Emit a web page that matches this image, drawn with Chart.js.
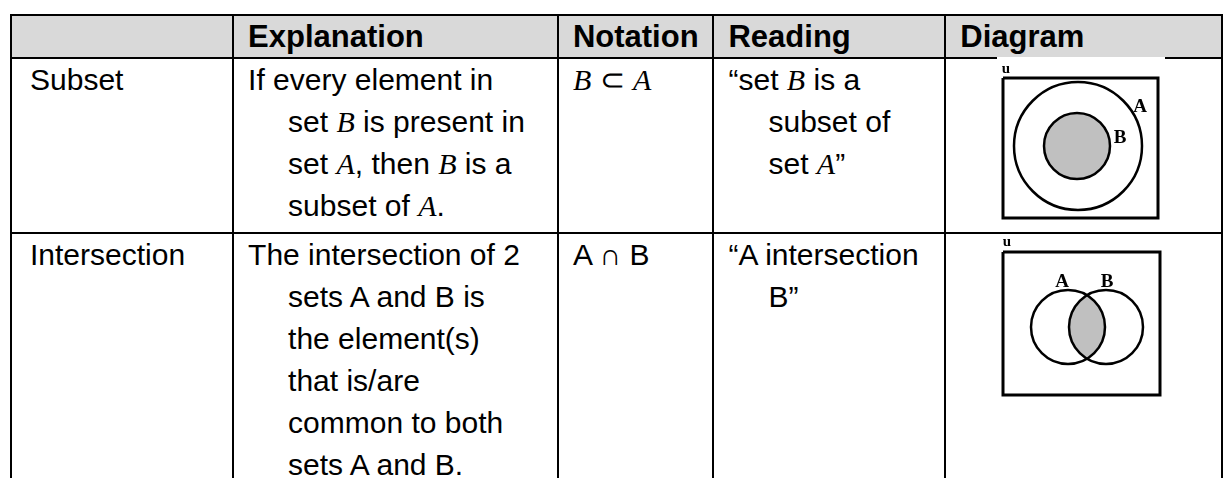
<!DOCTYPE html>
<html>
<head>
<meta charset="utf-8">
<script src="https://cdn.jsdelivr.net/npm/chart.js@4.4.1/dist/chart.umd.min.js"></script>
<style>
  html, body { margin: 0; padding: 0; background: #fff; width: 1223px; height: 478px; overflow: hidden; }
  #sheet {
    position: absolute; left: 10px; top: 14px;
    border-collapse: collapse; table-layout: fixed;
    font-family: "Liberation Sans", Arial, sans-serif; font-size: 30px; color: #000;
  }
  #sheet td, #sheet th {
    border: 2px solid #000; vertical-align: top; text-align: left;
    padding: 0 0 0 14px; line-height: 42px; white-space: nowrap; overflow: hidden;
  }
  #sheet th { background: #d9d9d9; font-weight: bold; font-size: 31px; height: 41px; line-height: 41px; vertical-align: middle; }
  #sheet td.first { padding-left: 18px; }
  #sheet td.hang { padding-left: 54px; text-indent: -40px; }
  i.m { font-family: "Liberation Serif", serif; font-style: italic; }
  .venn { position: absolute; background: #fff; }
</style>
</head>
<body>
<table id="sheet">
  <colgroup>
    <col style="width:237px"><col style="width:335px"><col style="width:160px"><col style="width:240px"><col style="width:320px">
  </colgroup>
  <thead><tr id="head"></tr></thead>
  <tbody id="rows"></tbody>
</table>
<canvas id="venn1" class="venn" width="168" height="175" style="left:997px;top:57px"></canvas>
<canvas id="venn2" class="venn" width="168" height="170" style="left:997px;top:234px"></canvas>

<script>
// table text
const headers = ['', 'Explanation', 'Notation', 'Reading', 'Diagram'];
const terms = ['Subset', 'Intersection'];
const explanations = [
  ['If every element in', 'set <i class="m">B</i> is present in', 'set <i class="m">A</i>, then <i class="m">B</i> is a', 'subset of <i class="m">A</i>.'],
  ['The intersection of 2', 'sets A and B is', 'the element(s)', 'that is/are', 'common to both', 'sets A and B.'],
];
const notations = ['<i class="m">B</i> ⊂ <i class="m">A</i>', 'A ∩ B'];
const readings = [
  ['“set <i class="m">B</i> is a', 'subset of', 'set <i class="m">A</i>”'],
  ['“A intersection', 'B”'],
];
const rowHeights = [175, 262];

// venn diagrams (canvas units = px)
const subsetBox = [[6, 21], [161, 21], [161, 161], [6, 161], [6, 21]];
const subsetCircles = [{ x: 81, y: 89, r: 64 }, { x: 80, y: 89, r: 33 }];
const subsetFills = ['rgba(0,0,0,0)', '#c0c0c0'];
const subsetLabels = [{ t: 'u', x: 9, y: 12, s: 15 }, { t: 'A', x: 143, y: 50, s: 19 }, { t: 'B', x: 123, y: 81, s: 19 }];

const interBox = [[6, 18], [163, 18], [163, 161], [6, 161], [6, 18]];
const interCircles = [{ x: 71, y: 93, r: 37 }, { x: 109, y: 93, r: 37 }];
const interFills = ['rgba(0,0,0,0)', 'rgba(0,0,0,0)'];
const interLabels = [{ t: 'u', x: 10, y: 8, s: 15 }, { t: 'A', x: 65, y: 48, s: 19 }, { t: 'B', x: 110, y: 48, s: 19 }];

// build the table
const head = document.getElementById('head');
headers.forEach((h) => {
  const th = document.createElement('th');
  th.textContent = h;
  head.appendChild(th);
});
const body = document.getElementById('rows');
terms.forEach((term, i) => {
  const tr = document.createElement('tr');
  tr.style.height = rowHeights[i] + 'px';
  tr.innerHTML =
    '<td class="first">' + term + '</td>' +
    '<td class="hang">' + explanations[i].join('<br>') + '</td>' +
    '<td>' + notations[i] + '</td>' +
    '<td class="hang">' + readings[i].join('<br>') + '</td>' +
    '<td></td>';
  body.appendChild(tr);
});

// lens fill + labels
const vennPlugin = {
  id: 'venn',
  beforeDatasetsDraw(chart) {
    const o = chart.options.plugins.venn;
    if (!o.lens) return;
    const pts = chart.getDatasetMeta(1).data;
    const ctx = chart.ctx;
    ctx.save();
    ctx.beginPath();
    ctx.arc(pts[0].x, pts[0].y, pts[0].options.radius, 0, Math.PI * 2);
    ctx.clip();
    ctx.beginPath();
    ctx.arc(pts[1].x, pts[1].y, pts[1].options.radius, 0, Math.PI * 2);
    ctx.fillStyle = '#c0c0c0';
    ctx.fill();
    ctx.restore();
  },
  afterDatasetsDraw(chart) {
    const o = chart.options.plugins.venn;
    const ctx = chart.ctx;
    ctx.save();
    ctx.fillStyle = '#000';
    ctx.textAlign = 'center';
    ctx.textBaseline = 'middle';
    o.labels.forEach((l) => {
      ctx.font = 'bold ' + l.s + 'px "Liberation Serif", serif';
      ctx.fillText(l.t, chart.scales.x.getPixelForValue(l.x), chart.scales.y.getPixelForValue(l.y));
    });
    ctx.restore();
  },
};

function makeVenn(id, box, circles, fills, labels, lens) {
  const cv = document.getElementById(id);
  return new Chart(cv.getContext('2d'), {
    type: 'scatter',
    data: {
      datasets: [
        {
          data: box.map((p) => ({ x: p[0], y: p[1] })),
          showLine: true,
          borderColor: '#000',
          borderWidth: 3,
          pointRadius: 0,
          tension: 0,
          clip: false,
        },
        {
          data: circles,
          pointRadius: (c) => c.raw.r,
          pointHoverRadius: (c) => c.raw.r,
          backgroundColor: fills,
          borderColor: '#000',
          borderWidth: 2.5,
          clip: false,
        },
      ],
    },
    options: {
      responsive: false,
      animation: false,
      devicePixelRatio: 1,
      layout: { padding: 0, autoPadding: false },
      events: [],
      scales: {
        x: { type: 'linear', min: 0, max: cv.width, display: false },
        y: { type: 'linear', min: 0, max: cv.height, reverse: true, display: false },
      },
      plugins: {
        legend: { display: false },
        tooltip: { enabled: false },
        venn: { labels: labels, lens: lens },
      },
    },
    plugins: [vennPlugin],
  });
}

makeVenn('venn1', subsetBox, subsetCircles, subsetFills, subsetLabels, false);
makeVenn('venn2', interBox, interCircles, interFills, interLabels, true);
</script>
</body>
</html>
